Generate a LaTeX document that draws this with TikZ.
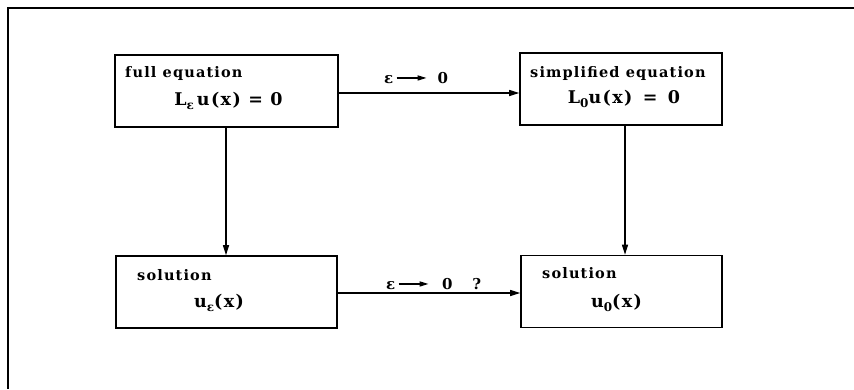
\documentclass[tikz,border=0pt]{standalone}
\usepackage{fontspec}
\setmainfont{DejaVu Serif}
\usetikzlibrary{arrows.meta,calc}
\newcommand{\sbx}[1]{\raisebox{-4.5pt}{\fontsize{12}{12}\selectfont #1}}
\begin{document}
\begin{tikzpicture}[x=1pt,y=-1pt,
  box/.style={draw,line width=1.6pt,minimum width=#1,minimum height=72pt,inner sep=0pt},
  arr/.style={line width=1.2pt,-{Triangle[length=10pt,width=6pt]}},
  lbl/.style={font=\bfseries\fontsize{14.5}{15}\selectfont\addfontfeature{LetterSpace=8},anchor=west,inner sep=0pt},
  eq/.style={font=\bfseries\fontsize{17.5}{18}\selectfont\addfontfeature{LetterSpace=8},inner sep=0pt},
  alb/.style={font=\bfseries\fontsize{15}{16}\selectfont,anchor=west,inner sep=0pt}]
\useasboundingbox (0,0) rectangle (854,389);
\fill[white] (0,0) rectangle (854,389);
\draw[line width=1.6pt] (854,8) -- (8,8) -- (8,389);
% boxes
\node[box=223pt] (A) at (226.5,91) {};
\node[box=202pt] (B) at (621,89) {};
\node[box=221pt] (C) at (226.5,292) {};
\node[box=201pt] (D) at (621.5,291.5) {};
% texts
\node[lbl] (ta) at (125,73) {full equation};
\node[eq] (ea) at (228.5,101) {L\sbx{ε}\,u(x) = 0};
\node[lbl] (tb) at (530,73) {simplified equation};
\node[eq] (eb) at (624,99) {L\sbx{0}u(x)\, =\, 0};
\node[lbl] (tc) at (137,275) {solution};
\node[eq] (ec) at (219,303) {u\sbx{ε}(x)};
\node[lbl] (td) at (542,273) {solution};
\node[eq] (ed) at (616.5,303) {u\sbx{0}(x)};
% arrow labels
\node[alb] (la) at (384,78) {ε\,\raisebox{1pt}{\tikz[baseline]\draw[line width=1.5pt,-{Triangle[length=9pt,width=5pt]}] (0,0.3em) -- (30pt,0.3em);}\,\, 0};
\node[alb] (lb) at (386,284) {ε\,\raisebox{1pt}{\tikz[baseline]\draw[line width=1.5pt,-{Triangle[length=9pt,width=5pt]}] (0,0.3em) -- (30pt,0.3em);}\,\,\, 0\hspace{20pt}?};
% connectors
\coordinate (yt) at (0,93);
\coordinate (yb) at (0,293);
\coordinate (xl) at (226,0);
\coordinate (xr) at (625,0);
\draw[arr] (A.east |- yt) -- (B.west |- yt);
\draw[arr] (C.east |- yb) -- (D.west |- yb);
\draw[arr] (xl |- A.south) -- (xl |- C.north);
\draw[arr] (xr |- B.south) -- (xr |- D.north);
\end{tikzpicture}
\end{document}
